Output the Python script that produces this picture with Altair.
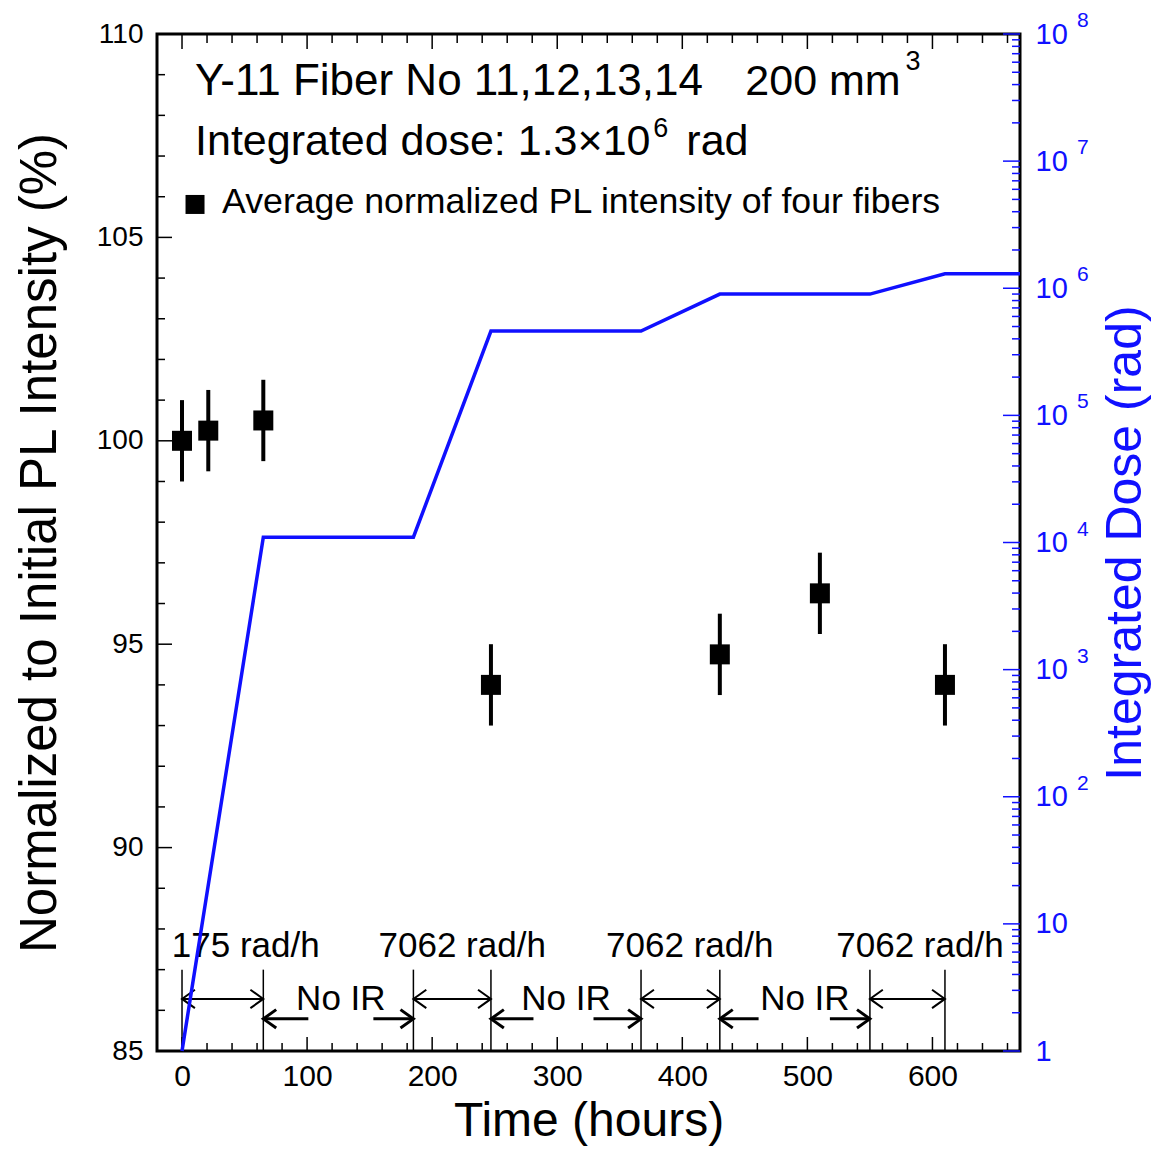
import altair as alt
import pandas as pd

# ---------------- data ----------------
time_h = [0, 21, 65, 247, 430, 510, 610]
pl_pct = [100.0, 100.25, 100.5, 94.0, 94.75, 96.25, 94.0]
pl_err = [1.0, 1.0, 1.0, 1.0, 1.0, 1.0, 1.0]

dose_t = [0, 65, 185, 247, 367, 430, 550, 610, 670]
dose_rad = [1, 1.1e4, 1.1e4, 4.6e5, 4.6e5, 9.0e5, 9.0e5, 1.3e6, 1.3e6]

period_bounds = [0, 65, 185, 247, 367, 430, 550, 610]
irr_start = [0, 185, 367, 550]
irr_end = [65, 247, 430, 610]
rate_text = ["175 rad/h", "7062 rad/h", "7062 rad/h", "7062 rad/h"]
rate_pos = [51, 224, 406, 590]
noir_text = ["No IR", "No IR", "No IR"]
noir_pos = [127, 307, 498]
noir_start = [65, 247, 430]
noir_left_tail = [101, 281, 461]
noir_right_tail = [153, 329, 518]
noir_end = [185, 367, 550]

x_ticks = [0, 100, 200, 300, 400, 500, 600]
x_minor = [t for t in range(20, 670, 20) if t % 100 != 0]
yl_ticks = [85, 90, 95, 100, 105, 110]
yl_minor = [v for v in range(86, 110) if v % 5 != 0]
yr_ticks = [1, 10, 1e2, 1e3, 1e4, 1e5, 1e6, 1e7, 1e8]
yr_minor = [m * 10 ** k for k in range(0, 8) for m in range(2, 10)]
yr_exp_vals = [1e2, 1e3, 1e4, 1e5, 1e6, 1e7, 1e8]
yr_exp_text = ["2", "3", "4", "5", "6", "7", "8"]

# ---------------- style ----------------
FONT = "Liberation Sans"
BLUE = "#1010ff"
W, H = 863, 1017

xscale = alt.Scale(domain=[-20, 670], nice=False, zero=False)
yl_scale = alt.Scale(domain=[85, 110], nice=False, zero=False)
yr_scale = alt.Scale(type="log", domain=[1, 1e8], nice=False)

x_axis = alt.Axis(values=x_ticks, title="Time (hours)", ticks=False, domain=False,
                  grid=False, labelFontSize=30, labelPadding=10, titleFontSize=48,
                  titlePadding=6, labelFlush=False, labelOverlap=False,
                  titleFontWeight="normal", labelFont=FONT, titleFont=FONT,
                  labelColor="black", titleColor="black")
yl_axis = alt.Axis(values=yl_ticks, title="Normalized to Initial PL Intensity (%)",
                   ticks=False, domain=False, grid=False, labelFontSize=28,
                   labelPadding=14, titleFontSize=51, titlePadding=30,
                   labelFlush=False, labelOverlap=False, titleFontWeight="normal",
                   labelFont=FONT, titleFont=FONT, labelColor="black", titleColor="black")
yr_axis = alt.Axis(orient="right", values=yr_ticks,
                   labelExpr="datum.value == 1 ? '1' : '10'",
                   title="Integrated Dose (rad)", ticks=False, domain=False, grid=False,
                   labelFontSize=29, labelPadding=15, labelAlign="left",
                   titleFontSize=50, titleAngle=270, titleBaseline="top",
                   titlePadding=33, labelFlush=False, labelOverlap=False,
                   titleFontWeight="normal", labelFont=FONT, titleFont=FONT,
                   labelColor=BLUE, titleColor=BLUE)


def X(f):
    return alt.X(f, type="quantitative", scale=xscale, axis=x_axis)


def YL(f):
    return alt.Y(f, type="quantitative", scale=yl_scale, axis=yl_axis)


def YR(f):
    return alt.Y(f, type="quantitative", scale=yr_scale, axis=yr_axis)


RIGHT_HEAD = "M -1.4 -1 L 0 0 L -1.4 1"
LEFT_HEAD = "M 1.4 -1 L 0 0 L 1.4 1"
HEAD_SIZE = 340

# ---------------- left-axis layers ----------------
pts = pd.DataFrame({"t": time_h, "pl": pl_pct,
                    "lo": [p - e for p, e in zip(pl_pct, pl_err)],
                    "hi": [p + e for p, e in zip(pl_pct, pl_err)]})

err = alt.Chart(pts).mark_rule(color="black", strokeWidth=4).encode(
    x=X("t"), y=YL("lo"), y2="hi")
sq = alt.Chart(pts).mark_square(size=400, color="black", opacity=1).encode(
    x=X("t"), y=YL("pl"))

vl = pd.DataFrame({"t": period_bounds, "y0": [85] * len(period_bounds),
                   "y1": [87.0] * len(period_bounds)})
vlines = alt.Chart(vl).mark_rule(color="black", strokeWidth=1.5).encode(
    x=X("t"), y=YL("y0"), y2="y1")

irr = pd.DataFrame({"a": irr_start, "b": irr_end, "y": [86.28] * len(irr_start)})
irr_shaft = alt.Chart(irr).mark_rule(color="black", strokeWidth=2).encode(
    x=X("a"), x2="b", y=YL("y"))
irr_lh = alt.Chart(irr).mark_point(shape=LEFT_HEAD, size=HEAD_SIZE, filled=False,
                                   color="black", strokeWidth=2, opacity=1).encode(
    x=X("a"), y=YL("y"))
irr_rh = alt.Chart(irr).mark_point(shape=RIGHT_HEAD, size=HEAD_SIZE, filled=False,
                                   color="black", strokeWidth=2, opacity=1).encode(
    x=X("b"), y=YL("y"))

nr = pd.DataFrame({"s": noir_start, "lt": noir_left_tail, "rt": noir_right_tail,
                   "e": noir_end, "y": [85.79] * len(noir_start)})
nr_ls = alt.Chart(nr).mark_rule(color="black", strokeWidth=3).encode(
    x=X("s"), x2="lt", y=YL("y"))
nr_rs = alt.Chart(nr).mark_rule(color="black", strokeWidth=3).encode(
    x=X("rt"), x2="e", y=YL("y"))
nr_lh = alt.Chart(nr).mark_point(shape=LEFT_HEAD, size=HEAD_SIZE, filled=False,
                                 color="black", strokeWidth=3, opacity=1).encode(
    x=X("s"), y=YL("y"))
nr_rh = alt.Chart(nr).mark_point(shape=RIGHT_HEAD, size=HEAD_SIZE, filled=False,
                                 color="black", strokeWidth=3, opacity=1).encode(
    x=X("e"), y=YL("y"))

rt = pd.DataFrame({"t": rate_pos, "txt": rate_text, "y": [87.31] * len(rate_pos)})
rate_lbl = alt.Chart(rt).mark_text(font=FONT, fontSize=35, color="black",
                                   align="center", baseline="alphabetic").encode(
    x=X("t"), y=YL("y"), text="txt")
nt = pd.DataFrame({"t": noir_pos, "txt": noir_text, "y": [86.01] * len(noir_pos)})
noir_lbl = alt.Chart(nt).mark_text(font=FONT, fontSize=35, color="black",
                                   align="center", baseline="alphabetic").encode(
    x=X("t"), y=YL("y"), text="txt")

head = pd.DataFrame({
    "t": [10.4, 450.4, 10.4, 403.2, 32.0],
    "y": [108.5, 108.5, 107.03, 107.03, 105.59],
    "txt": ["Y-11 Fiber No 11,12,13,14", "200 mm", "Integrated dose: 1.3\u00d710",
            "rad", "Average normalized PL intensity of four fibers"],
    "fs": [44, 43, 43, 43, 35.7]})
head_lbl = alt.Chart(head).mark_text(font=FONT, color="black", align="left",
                                     baseline="alphabetic").encode(
    x=X("t"), y=YL("y"), text="txt", size=alt.Size("fs:Q", scale=None, legend=None))
sup = pd.DataFrame({"t": [578.4, 376.8], "y": [109.12, 107.47], "txt": ["3", "6"]})
sup_lbl = alt.Chart(sup).mark_text(font=FONT, fontSize=27, color="black", align="left",
                                   baseline="alphabetic").encode(
    x=X("t"), y=YL("y"), text="txt")
leg = pd.DataFrame({"t": [10.4], "y": [105.81]})
leg_sq = alt.Chart(leg).mark_square(size=361, color="black", opacity=1).encode(
    x=X("t"), y=YL("y"))

# inward ticks (frame)
xt_major = pd.DataFrame({"t": x_ticks})
xt_minor = pd.DataFrame({"t": x_minor})
xb_major = alt.Chart(xt_major).mark_rule(color="black", strokeWidth=1.5).encode(
    x=X("t"), y=alt.value(H), y2=alt.value(H - 14))
xb_minor = alt.Chart(xt_minor).mark_rule(color="black", strokeWidth=1.5).encode(
    x=X("t"), y=alt.value(H), y2=alt.value(H - 8))
xtop_major = alt.Chart(xt_major).mark_rule(color="black", strokeWidth=1.5).encode(
    x=X("t"), y=alt.value(0), y2=alt.value(15))
xtop_minor = alt.Chart(xt_minor).mark_rule(color="black", strokeWidth=1.5).encode(
    x=X("t"), y=alt.value(0), y2=alt.value(9))
ylt_major = alt.Chart(pd.DataFrame({"v": yl_ticks})).mark_rule(
    color="black", strokeWidth=1.5).encode(y=YL("v"), x=alt.value(0), x2=alt.value(15))
ylt_minor = alt.Chart(pd.DataFrame({"v": yl_minor})).mark_rule(
    color="black", strokeWidth=1.5).encode(y=YL("v"), x=alt.value(0), x2=alt.value(8))

left = alt.layer(err, sq, vlines, irr_shaft, irr_lh, irr_rh, nr_ls, nr_rs, nr_lh, nr_rh,
                 rate_lbl, noir_lbl, head_lbl, sup_lbl, leg_sq,
                 xb_major, xb_minor, xtop_major, xtop_minor, ylt_major, ylt_minor)

# ---------------- right-axis layers ----------------
dose = pd.DataFrame({"t": dose_t, "d": dose_rad})
dose_line = alt.Chart(dose).mark_line(color=BLUE, strokeWidth=3.5).encode(
    x=X("t"), y=YR("d"))
yrt_major = alt.Chart(pd.DataFrame({"v": yr_ticks})).mark_rule(
    color=BLUE, strokeWidth=1.5).encode(y=YR("v"), x=alt.value(W), x2=alt.value(W - 17))
yrt_minor = alt.Chart(pd.DataFrame({"v": yr_minor})).mark_rule(
    color=BLUE, strokeWidth=1.5).encode(y=YR("v"), x=alt.value(W), x2=alt.value(W - 8))
exps = alt.Chart(pd.DataFrame({"v": yr_exp_vals, "e": yr_exp_text})).mark_text(
    font=FONT, fontSize=21, color=BLUE, align="left", baseline="middle", dy=-13).encode(
    y=YR("v"), x=alt.value(W + 57), text="e")

right = alt.layer(dose_line, yrt_minor, yrt_major, exps)

chart = alt.layer(left, right).resolve_scale(y="independent").properties(
    width=W, height=H,
    background="white",
    autosize=alt.AutoSizeParams(type="none"),
    padding={"left": 149, "top": 26, "right": 133, "bottom": 97},
).configure_view(stroke="black", strokeWidth=3)

chart.save("out.html", embed_options={"renderer": "svg", "actions": False})
